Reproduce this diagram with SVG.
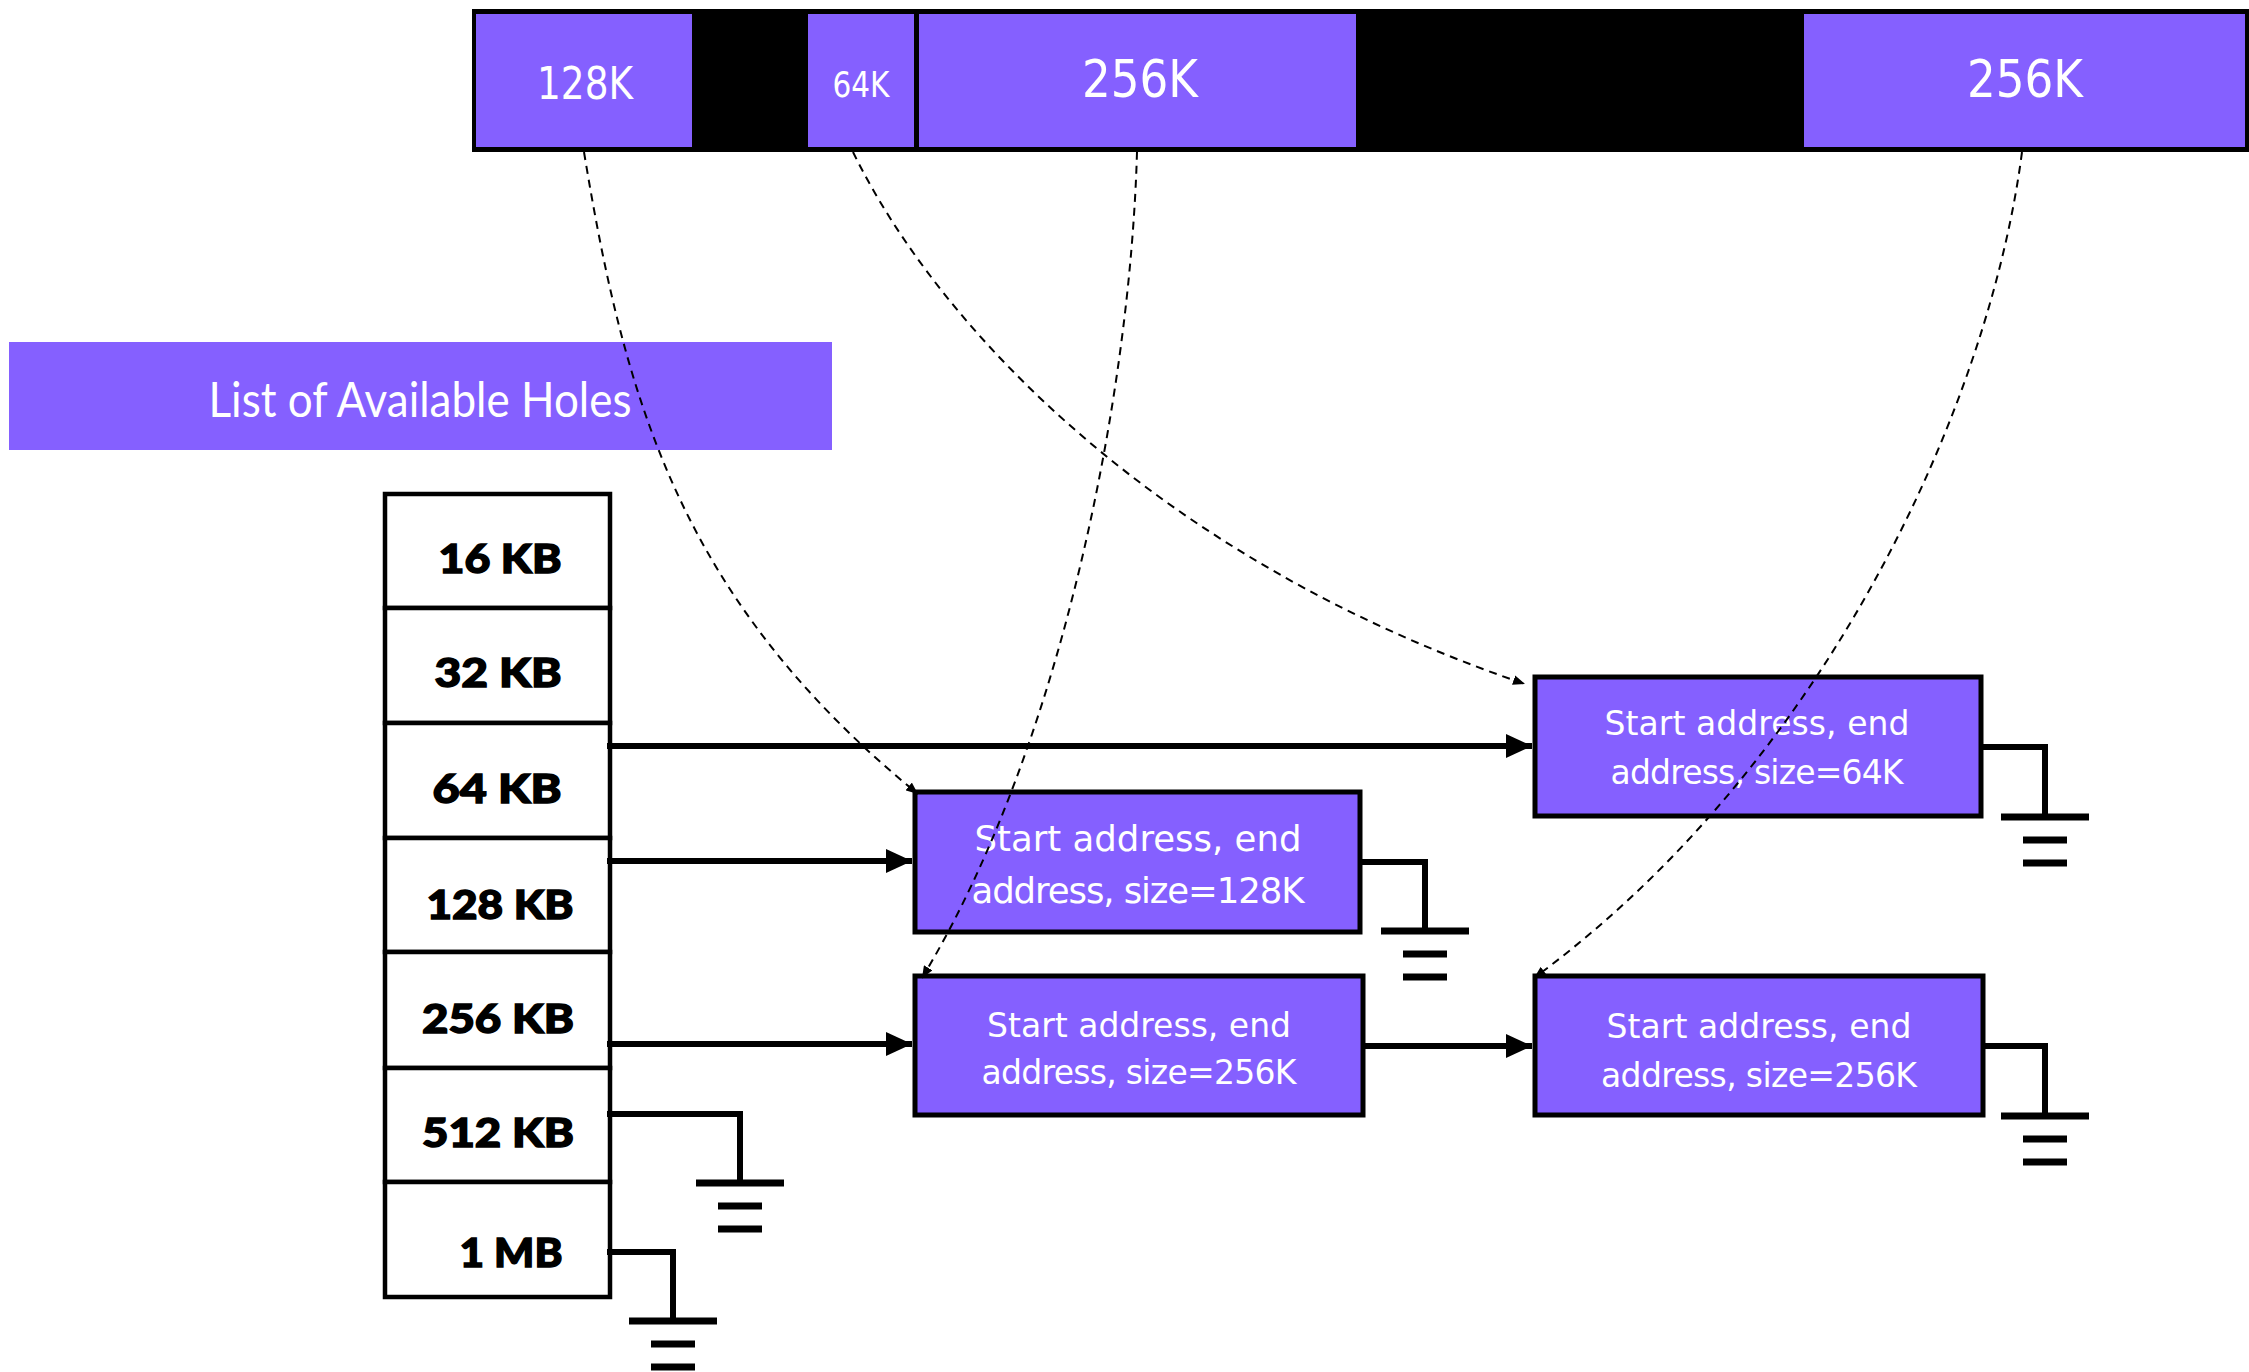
<svg xmlns="http://www.w3.org/2000/svg" width="2249" height="1372" viewBox="0 0 2249 1372">
  <style>
    .hole { fill: #8560ff; }
    .node rect { fill: #8560ff; stroke: #000; stroke-width: 5; }
    .nt { font-family: "DejaVu Sans", "Liberation Sans", sans-serif; fill: #fff; text-anchor: middle; }
    .title { font-family: Lato, "Liberation Sans", sans-serif; fill: #fff; text-anchor: middle; font-size: 49px; }
    .cell { fill: #fff; stroke: #000; stroke-width: 4.5; }
    .kb { font-family: Lato, "Liberation Sans", sans-serif; font-weight: 900; font-size: 40px; text-anchor: middle; fill: #000; stroke: #000; stroke-width: 1.4; }
    .link { fill: none; stroke: #000; stroke-width: 6; }
    .dash { fill: none; stroke: #000; stroke-width: 2; stroke-dasharray: 8 6; }
    .wire { fill: none; stroke: #000; stroke-width: 6; }
  </style>
  <defs>
    <marker id="head" viewBox="0 0 26 24" refX="26" refY="12" markerWidth="26" markerHeight="24" markerUnits="userSpaceOnUse" orient="auto">
      <path d="M0,0 L26,12 L0,24 z" fill="#000"/>
    </marker>
    <marker id="tip" viewBox="0 0 12 10" refX="12" refY="5" markerWidth="12" markerHeight="10" markerUnits="userSpaceOnUse" orient="auto">
      <path d="M0,0 L12,5 L0,10 z" fill="#000"/>
    </marker>
    <!-- earth symbol: wide bar plus two short bars -->
    <g id="earth">
      <path d="M-44,0 H44 M-22,23 H22 M-22,46 H22" stroke="#000" stroke-width="7" fill="none"/>
    </g>
  </defs>

  <!-- memory strip -->
  <g id="memory">
    <rect x="472" y="9" width="1777" height="143" fill="#000"/>
    <g id="seg-128k">
      <rect class="hole" x="476" y="14" width="216" height="133"/>
      <text class="nt" x="585" y="99" font-size="45" textLength="96" lengthAdjust="spacingAndGlyphs">128K</text>
    </g>
    <g id="seg-64k">
      <rect class="hole" x="808" y="14" width="106" height="133"/>
      <text class="nt" x="861" y="97" font-size="35" textLength="57" lengthAdjust="spacingAndGlyphs">64K</text>
    </g>
    <g id="seg-256k-a">
      <rect class="hole" x="919" y="14" width="437" height="133"/>
      <text class="nt" x="1140" y="97" font-size="52" textLength="116" lengthAdjust="spacingAndGlyphs">256K</text>
    </g>
    <g id="seg-256k-b">
      <rect class="hole" x="1804" y="14" width="441" height="133"/>
      <text class="nt" x="2025" y="97" font-size="52" textLength="116" lengthAdjust="spacingAndGlyphs">256K</text>
    </g>
  </g>

  <!-- heading -->
  <g id="heading">
    <rect class="hole" x="9" y="342" width="823" height="108"/>
    <text class="title" x="420" y="417" textLength="423" lengthAdjust="spacingAndGlyphs">List of Available Holes</text>
  </g>

  <!-- size-class table -->
  <g id="size-table">
    <rect class="cell" x="385" y="494" width="225" height="114"/>
    <rect class="cell" x="385" y="608" width="225" height="115"/>
    <rect class="cell" x="385" y="723" width="225" height="115"/>
    <rect class="cell" x="385" y="838" width="225" height="114"/>
    <rect class="cell" x="385" y="952" width="225" height="116"/>
    <rect class="cell" x="385" y="1068" width="225" height="114"/>
    <rect class="cell" x="385" y="1182" width="225" height="115"/>
    <text class="kb" x="500" y="573" textLength="123" lengthAdjust="spacingAndGlyphs">16 KB</text>
    <text class="kb" x="498" y="687" textLength="127" lengthAdjust="spacingAndGlyphs">32 KB</text>
    <text class="kb" x="497" y="803" textLength="129" lengthAdjust="spacingAndGlyphs">64 KB</text>
    <text class="kb" x="500" y="919" textLength="147" lengthAdjust="spacingAndGlyphs">128 KB</text>
    <text class="kb" x="498" y="1033" textLength="152" lengthAdjust="spacingAndGlyphs">256 KB</text>
    <text class="kb" x="498" y="1147" textLength="152" lengthAdjust="spacingAndGlyphs">512 KB</text>
    <text class="kb" x="511" y="1267" textLength="103" lengthAdjust="spacingAndGlyphs">1 MB</text>
  </g>

  <!-- hole descriptors -->
  <g id="hole-64k" class="node">
    <rect x="1535" y="677" width="446" height="139"/>
    <text class="nt" x="1757" y="735" font-size="33" textLength="305">Start address, end</text>
    <text class="nt" x="1757" y="784" font-size="33" textLength="293">address, size=64K</text>
  </g>
  <g id="hole-128k" class="node">
    <rect x="915" y="792" width="445" height="140"/>
    <text class="nt" x="1138" y="851" font-size="35.5" textLength="327">Start address, end</text>
    <text class="nt" x="1138" y="903" font-size="35.5" textLength="333">address, size=128K</text>
  </g>
  <g id="hole-256k-a" class="node">
    <rect x="915" y="976" width="448" height="139"/>
    <text class="nt" x="1139" y="1037" font-size="33" textLength="304">Start address, end</text>
    <text class="nt" x="1139" y="1084" font-size="33" textLength="315">address, size=256K</text>
  </g>
  <g id="hole-256k-b" class="node">
    <rect x="1535" y="976" width="448" height="139"/>
    <text class="nt" x="1759" y="1038" font-size="33" textLength="305">Start address, end</text>
    <text class="nt" x="1759" y="1087" font-size="33" textLength="316">address, size=256K</text>
  </g>

  <!-- list links, null terminators and address pointers -->
  <g id="connectors">
    <path class="link" d="M607,746 H1532" marker-end="url(#head)"/>
    <path class="link" d="M607,861 H912" marker-end="url(#head)"/>
    <path class="link" d="M607,1044 H912" marker-end="url(#head)"/>
    <path class="link" d="M1365,1046 H1532" marker-end="url(#head)"/>

    <path class="wire" d="M607,1114 H740 V1183"/>
    <use href="#earth" x="740" y="1183"/>
    <path class="wire" d="M607,1252 H673 V1321"/>
    <use href="#earth" x="673" y="1321"/>
    <path class="wire" d="M1362,862 H1425 V931"/>
    <use href="#earth" x="1425" y="931"/>
    <path class="wire" d="M1983,747 H2045 V817"/>
    <use href="#earth" x="2045" y="817"/>
    <path class="wire" d="M1985,1046 H2045 V1116"/>
    <use href="#earth" x="2045" y="1116"/>

    <path class="dash" d="M584,152 C625,400 680,600 918,794" marker-end="url(#tip)"/>
    <path class="dash" d="M853,152 C940,330 1160,560 1525,684" marker-end="url(#tip)"/>
    <path class="dash" d="M1137,152 C1130,400 1060,750 922,978" marker-end="url(#tip)"/>
    <path class="dash" d="M2022,152 C1990,400 1830,760 1534,978" marker-end="url(#tip)"/>
  </g>
</svg>
